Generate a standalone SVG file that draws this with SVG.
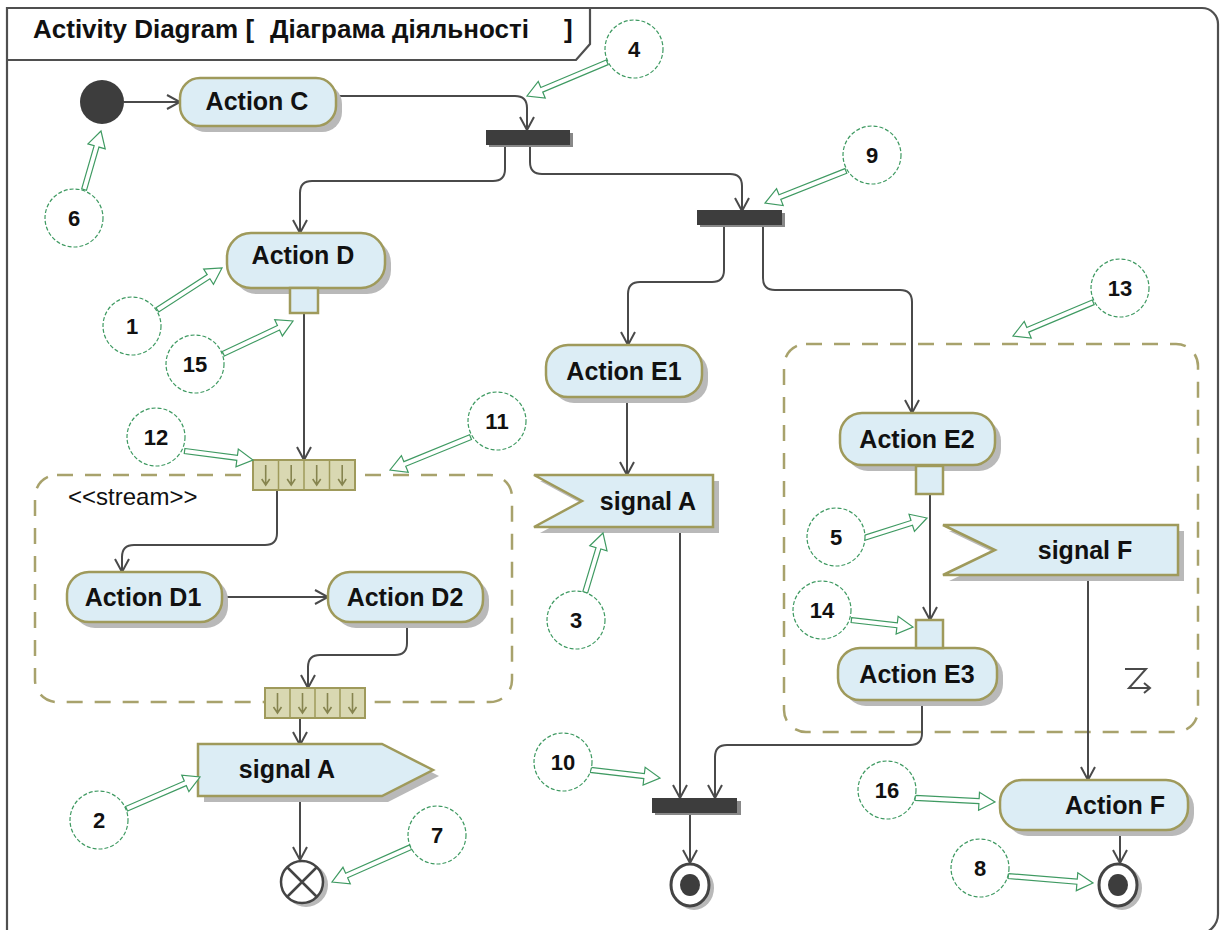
<svg xmlns="http://www.w3.org/2000/svg" width="1220" height="930" viewBox="0 0 1220 930">
  <style>
    .frame { fill: none; stroke: #4f4f4f; stroke-width: 2.2; }
    .title { font-family: "Liberation Sans", Arial, sans-serif; font-size: 26px; font-weight: bold; fill: #111; }
    .node { fill: #dcedf5; stroke: #9f9a5b; stroke-width: 2.5; }
    .shadow { fill: #b9b9b9; }
    .label { font-family: "Liberation Sans", Arial, sans-serif; font-size: 25px; font-weight: bold; fill: #111; text-anchor: middle; }
    .plain { font-family: "Liberation Sans", Arial, sans-serif; font-size: 24px; fill: #111; }
    .bar { fill: #3d3d3d; }
    .flow { fill: none; stroke: #4a4a4a; stroke-width: 2; marker-end: url(#open); }
    .line { fill: none; stroke: #4a4a4a; stroke-width: 2; }
    .region { fill: none; stroke: #a8a26c; stroke-width: 2.5; stroke-dasharray: 16 12; }
    .spin { fill: #d9d8b2; stroke: #9f9a5b; stroke-width: 2; }
    .sdiv { stroke: #9f9a5b; stroke-width: 1.5; }
    .sarr { fill: none; stroke: #86844f; stroke-width: 1.6; }
    .note { fill: #fff; stroke: #3f9a62; stroke-width: 1.2; stroke-dasharray: 4 2; }
    .nptr { fill: #fff; stroke: #3f9a62; stroke-width: 1.2; }
    .num { font-family: "Liberation Sans", Arial, sans-serif; font-size: 22px; font-weight: bold; fill: #111; text-anchor: middle; }
  </style>
  <defs>
    <marker id="open" viewBox="0 0 16 16" refX="14" refY="8" markerWidth="16" markerHeight="16" markerUnits="userSpaceOnUse" orient="auto">
      <path d="M1,1 L14,8 L1,15" fill="none" stroke="#4a4a4a" stroke-width="2"/>
    </marker>
    <path id="cellArrow" d="M0,-10 L0,10 M-4,4 L0,10 L4,4"/>
  </defs>

  <!-- diagram frame with its name tab -->
  <g id="frame">
    <path class="frame" d="M7,940 L7,8 L1202,8 A16,16 0 0 1 1218,24 L1218,914 A20,20 0 0 1 1198,934"/>
    <path class="frame" d="M7,60 L576,60 L590,44 L590,8"/>
    <text class="title" x="33" y="38">Activity Diagram [</text>
    <text class="title" x="270" y="38">Діаграма діяльності</text>
    <text class="title" x="564" y="38">]</text>
  </g>

  <!-- regions -->
  <g id="stream-region">
    <rect class="region" x="35" y="475" width="477" height="227" rx="22"/>
    <text class="plain" x="68" y="505">&lt;&lt;stream&gt;&gt;</text>
  </g>
  <g id="interruptible-region">
    <rect class="region" x="784" y="344" width="414" height="388" rx="22"/>
    <path class="line" d="M1125,669 L1146,669 L1129,688 L1150,688 M1144,683 L1150,688 L1144,693" stroke="#555"/>
  </g>

  <!-- control flows -->
  <g id="connectors">
    <path class="flow" d="M124,102 L180,102"/>
    <path class="flow" d="M336,96 L515,96 Q527,96 527,108 L527,130"/>
    <path class="flow" d="M505,145 L505,169 Q505,181 493,181 L312,181 Q300,181 300,193 L300,233"/>
    <path class="flow" d="M530,145 L530,162 Q530,174 542,174 L730,174 Q742,174 742,186 L742,211"/>
    <path class="flow" d="M724,227 L724,270 Q724,282 712,282 L640,282 Q628,282 628,294 L628,345"/>
    <path class="flow" d="M763,227 L763,278 Q763,290 775,290 L900,290 Q912,290 912,302 L912,413"/>
    <path class="flow" d="M304,313 L304,460"/>
    <path class="flow" d="M277,490 L277,533 Q277,545 265,545 L134,545 Q122,545 122,557 L122,572"/>
    <path class="flow" d="M222,597 L328,597"/>
    <path class="flow" d="M407,622 L407,643 Q407,655 395,655 L320,655 Q308,655 308,667 L308,688"/>
    <path class="flow" d="M300,718 L300,745"/>
    <path class="flow" d="M300,796 L300,860"/>
    <path class="flow" d="M627,398 L627,475"/>
    <path class="flow" d="M680,527 L680,798"/>
    <path class="flow" d="M922,700 L922,733 Q922,745 910,745 L727,745 Q715,745 715,757 L715,798"/>
    <path class="flow" d="M690,813 L690,863"/>
    <path class="flow" d="M930,494 L930,620"/>
    <path class="flow" d="M1088,575 L1088,780"/>
    <path class="flow" d="M1120,830 L1120,863"/>
  </g>

  <!-- nodes -->
  <g id="initial">
    <circle cx="102" cy="102" r="22" fill="#3d3d3d"/>
  </g>
  <g id="action-c">
    <rect class="shadow" x="186" y="84" width="156" height="48" rx="20"/>
    <rect class="node" x="180" y="78" width="156" height="48" rx="20"/>
    <text class="label" x="257" y="110">Action C</text>
  </g>
  <g id="fork-1">
    <rect fill="#888" x="489" y="133" width="84" height="14"/>
    <rect class="bar" x="486" y="130" width="84" height="15"/>
  </g>
  <g id="fork-2">
    <rect fill="#888" x="700" y="213" width="85" height="14"/>
    <rect class="bar" x="697" y="210" width="85" height="15"/>
  </g>
  <g id="action-d">
    <rect class="shadow" x="233" y="239" width="158" height="55" rx="24"/>
    <rect class="node" x="227" y="233" width="158" height="55" rx="24"/>
    <text class="label" x="303" y="264">Action D</text>
    <rect class="node" x="290" y="288" width="28" height="25" stroke-width="2"/>
  </g>
  <g id="stream-in">
    <rect class="spin" x="253" y="460" width="102" height="30"/>
    <path class="sdiv" d="M278.5,460 V490 M304,460 V490 M329.5,460 V490"/>
    <use href="#cellArrow" class="sarr" x="265.7" y="475"/>
    <use href="#cellArrow" class="sarr" x="291.2" y="475"/>
    <use href="#cellArrow" class="sarr" x="316.7" y="475"/>
    <use href="#cellArrow" class="sarr" x="342.2" y="475"/>
  </g>
  <g id="action-d1">
    <rect class="shadow" x="73" y="578" width="155" height="50" rx="22"/>
    <rect class="node" x="67" y="572" width="155" height="50" rx="22"/>
    <text class="label" x="143" y="606">Action D1</text>
  </g>
  <g id="action-d2">
    <rect class="shadow" x="334" y="578" width="155" height="50" rx="22"/>
    <rect class="node" x="328" y="572" width="155" height="50" rx="22"/>
    <text class="label" x="405" y="606">Action D2</text>
  </g>
  <g id="stream-out">
    <rect class="spin" x="265" y="688" width="100" height="30"/>
    <path class="sdiv" d="M290,688 V718 M315,688 V718 M340,688 V718"/>
    <use href="#cellArrow" class="sarr" x="277.5" y="703"/>
    <use href="#cellArrow" class="sarr" x="302.5" y="703"/>
    <use href="#cellArrow" class="sarr" x="327.5" y="703"/>
    <use href="#cellArrow" class="sarr" x="352.5" y="703"/>
  </g>
  <g id="send-signal-a">
    <polygon class="shadow" points="204,750 388,750 439,776 388,802 204,802"/>
    <polygon class="node" points="198,744 382,744 433,770 382,796 198,796"/>
    <text class="label" x="287" y="778">signal A</text>
  </g>
  <g id="flow-final">
    <circle class="shadow" cx="306" cy="885" r="22"/>
    <circle cx="302" cy="882" r="21" fill="#fff" stroke="#444" stroke-width="2.5"/>
    <path d="M287,867 L317,897 M317,867 L287,897" stroke="#444" stroke-width="2.5"/>
  </g>
  <g id="action-e1">
    <rect class="shadow" x="552" y="351" width="156" height="52" rx="22"/>
    <rect class="node" x="546" y="345" width="156" height="52" rx="22"/>
    <text class="label" x="624" y="380">Action E1</text>
  </g>
  <g id="accept-signal-a">
    <polygon class="shadow" points="540,481 719,481 719,533 540,533 588,507"/>
    <polygon class="node" points="534,475 713,475 713,527 534,527 582,501"/>
    <text class="label" x="648" y="510">signal A</text>
  </g>
  <g id="action-e2">
    <rect class="shadow" x="846" y="419" width="155" height="52" rx="22"/>
    <rect class="node" x="840" y="413" width="155" height="52" rx="22"/>
    <text class="label" x="917" y="448">Action E2</text>
    <rect class="node" x="916" y="466" width="27" height="28" stroke-width="2"/>
  </g>
  <g id="accept-signal-f">
    <polygon class="shadow" points="949,531 1184,531 1184,581 949,581 1001,556"/>
    <polygon class="node" points="943,525 1178,525 1178,575 943,575 995,550"/>
    <text class="label" x="1085" y="559">signal F</text>
  </g>
  <g id="action-e3">
    <rect class="shadow" x="844" y="654" width="159" height="52" rx="22"/>
    <rect class="node" x="838" y="648" width="159" height="52" rx="22"/>
    <text class="label" x="917" y="683">Action E3</text>
    <rect class="node" x="916" y="620" width="27" height="28" stroke-width="2"/>
  </g>
  <g id="join">
    <rect fill="#888" x="655" y="801" width="86" height="14"/>
    <rect class="bar" x="652" y="798" width="85" height="15"/>
  </g>
  <g id="activity-final-1">
    <ellipse class="shadow" cx="694" cy="888" rx="20" ry="22"/>
    <ellipse cx="690" cy="885" rx="19" ry="21" fill="#fff" stroke="#444" stroke-width="3"/>
    <ellipse cx="690" cy="885" rx="10" ry="11" fill="#3d3d3d"/>
  </g>
  <g id="action-f">
    <rect class="shadow" x="1006" y="786" width="188" height="50" rx="22"/>
    <rect class="node" x="1000" y="780" width="188" height="50" rx="22"/>
    <text class="label" x="1115" y="814">Action F</text>
  </g>
  <g id="activity-final-2">
    <ellipse class="shadow" cx="1122" cy="888" rx="20" ry="22"/>
    <ellipse cx="1118" cy="885" rx="19" ry="21" fill="#fff" stroke="#444" stroke-width="3"/>
    <ellipse cx="1118" cy="885" rx="10" ry="11" fill="#3d3d3d"/>
  </g>

  <!-- numbered callouts -->
  <g id="callout-1">
    <path class="nptr" transform="translate(222,268) rotate(-32.9)" d="M-77,-2.5 L-16,-2.5 L-16,-9 L0,0 L-16,9 L-16,2.5 L-77,2.5 Z"/>
    <circle class="note" cx="132" cy="326" r="29"/><text class="num" x="132" y="334">1</text>
  </g>
  <g id="callout-2">
    <path class="nptr" transform="translate(200,777) rotate(-23.4)" d="M-80,-2.5 L-16,-2.5 L-16,-9 L0,0 L-16,9 L-16,2.5 L-80,2.5 Z"/>
    <circle class="note" cx="99" cy="820" r="29"/><text class="num" x="99" y="828">2</text>
  </g>
  <g id="callout-3">
    <path class="nptr" transform="translate(603,533) rotate(-73.3)" d="M-62,-2.5 L-16,-2.5 L-16,-9 L0,0 L-16,9 L-16,2.5 L-62,2.5 Z"/>
    <circle class="note" cx="576" cy="620" r="29"/><text class="num" x="576" y="628">3</text>
  </g>
  <g id="callout-4">
    <path class="nptr" transform="translate(527,96) rotate(157.2)" d="M-87,-2.5 L-16,-2.5 L-16,-9 L0,0 L-16,9 L-16,2.5 L-87,2.5 Z"/>
    <circle class="note" cx="634" cy="49" r="29"/><text class="num" x="634" y="57">4</text>
  </g>
  <g id="callout-5">
    <path class="nptr" transform="translate(927,518) rotate(-17.6)" d="M-66,-2.5 L-16,-2.5 L-16,-9 L0,0 L-16,9 L-16,2.5 L-66,2.5 Z"/>
    <circle class="note" cx="836" cy="537" r="29"/><text class="num" x="836" y="545">5</text>
  </g>
  <g id="callout-6">
    <path class="nptr" transform="translate(101,131) rotate(-73.9)" d="M-61,-2.5 L-16,-2.5 L-16,-9 L0,0 L-16,9 L-16,2.5 L-61,2.5 Z"/>
    <circle class="note" cx="74" cy="218" r="29"/><text class="num" x="74" y="226">6</text>
  </g>
  <g id="callout-7">
    <path class="nptr" transform="translate(332,882) rotate(156.1)" d="M-86,-2.5 L-16,-2.5 L-16,-9 L0,0 L-16,9 L-16,2.5 L-86,2.5 Z"/>
    <circle class="note" cx="437" cy="835" r="29"/><text class="num" x="437" y="843">7</text>
  </g>
  <g id="callout-8">
    <path class="nptr" transform="translate(1093,883) rotate(4.7)" d="M-85,-2.5 L-16,-2.5 L-16,-9 L0,0 L-16,9 L-16,2.5 L-85,2.5 Z"/>
    <circle class="note" cx="980" cy="868" r="29"/><text class="num" x="980" y="876">8</text>
  </g>
  <g id="callout-9">
    <path class="nptr" transform="translate(765,203) rotate(158.4)" d="M-87,-2.5 L-16,-2.5 L-16,-9 L0,0 L-16,9 L-16,2.5 L-87,2.5 Z"/>
    <circle class="note" cx="872" cy="155" r="29"/><text class="num" x="872" y="163">9</text>
  </g>
  <g id="callout-10">
    <path class="nptr" transform="translate(660,778) rotate(6.6)" d="M-70,-2.5 L-16,-2.5 L-16,-9 L0,0 L-16,9 L-16,2.5 L-70,2.5 Z"/>
    <circle class="note" cx="563" cy="762" r="29"/><text class="num" x="563" y="770">10</text>
  </g>
  <g id="callout-11">
    <path class="nptr" transform="translate(390,470) rotate(157.8)" d="M-87,-2.5 L-16,-2.5 L-16,-9 L0,0 L-16,9 L-16,2.5 L-87,2.5 Z"/>
    <circle class="note" cx="497" cy="421" r="29"/><text class="num" x="497" y="429">11</text>
  </g>
  <g id="callout-12">
    <path class="nptr" transform="translate(253,460) rotate(7.5)" d="M-69,-2.5 L-16,-2.5 L-16,-9 L0,0 L-16,9 L-16,2.5 L-69,2.5 Z"/>
    <circle class="note" cx="156" cy="437" r="29"/><text class="num" x="156" y="445">12</text>
  </g>
  <g id="callout-13">
    <path class="nptr" transform="translate(1013,336) rotate(157.2)" d="M-87,-2.5 L-16,-2.5 L-16,-9 L0,0 L-16,9 L-16,2.5 L-87,2.5 Z"/>
    <circle class="note" cx="1120" cy="288" r="29"/><text class="num" x="1120" y="296">13</text>
  </g>
  <g id="callout-14">
    <path class="nptr" transform="translate(913,627) rotate(6.4)" d="M-62,-2.5 L-16,-2.5 L-16,-9 L0,0 L-16,9 L-16,2.5 L-62,2.5 Z"/>
    <circle class="note" cx="822" cy="610" r="29"/><text class="num" x="822" y="618">14</text>
  </g>
  <g id="callout-15">
    <path class="nptr" transform="translate(293,321) rotate(-25.2)" d="M-77,-2.5 L-16,-2.5 L-16,-9 L0,0 L-16,9 L-16,2.5 L-77,2.5 Z"/>
    <circle class="note" cx="195" cy="364" r="29"/><text class="num" x="195" y="372">15</text>
  </g>
  <g id="callout-16">
    <path class="nptr" transform="translate(995,802) rotate(2.9)" d="M-80,-2.5 L-16,-2.5 L-16,-9 L0,0 L-16,9 L-16,2.5 L-80,2.5 Z"/>
    <circle class="note" cx="887" cy="790" r="29"/><text class="num" x="887" y="798">16</text>
  </g>
</svg>
